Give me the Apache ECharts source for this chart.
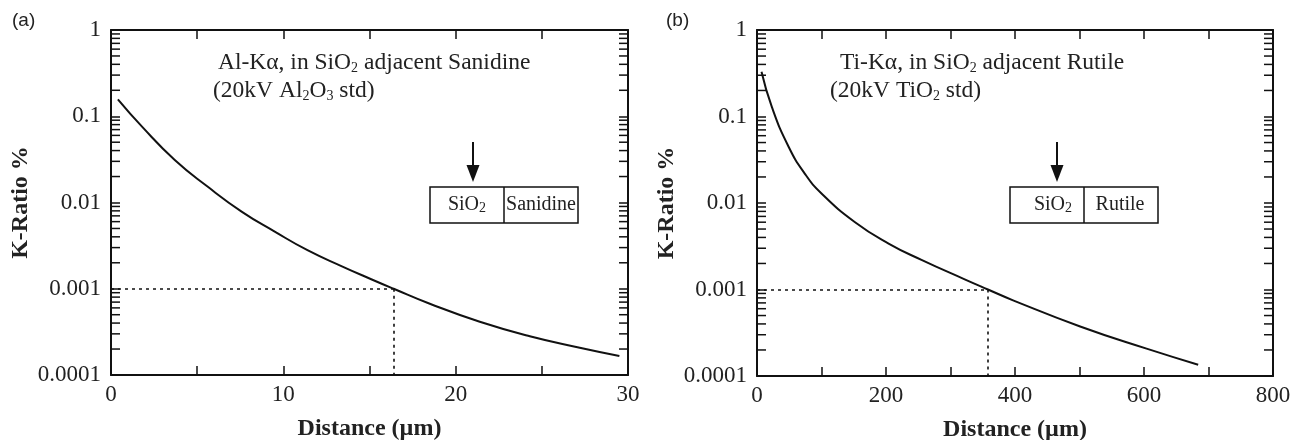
<!DOCTYPE html>
<html>
<head>
<meta charset="utf-8">
<title>K-Ratio vs Distance</title>
<script src="https://cdn.jsdelivr.net/npm/echarts@6/dist/echarts.min.js"></script>
<style>
  html, body { margin: 0; padding: 0; background: #fff; }
  #main { width: 1301px; height: 440px; }
</style>
</head>
<body>
<div id="main"></div>
<script>
// (a) Al-Ka in SiO2 next to sanidine
var distA = [0.4, 1.8, 3.7, 5.6, 7.6, 9.5, 11.4, 13.4, 15.1, 16.4, 18.5, 21.4, 24.3, 27.2, 29.5];
var kRatioA = [0.157, 0.0757, 0.0311, 0.0153, 0.0078, 0.0046, 0.0028, 0.00182, 0.00129, 0.001, 0.00067, 0.000414, 0.000281, 0.000207, 0.000166];
// (b) Ti-Ka in SiO2 next to rutile
var distB = [7, 23, 49, 74, 100, 152, 204, 255, 322, 358, 397, 501, 604, 684];
var kRatioB = [0.329, 0.129, 0.0447, 0.0219, 0.0129, 0.006, 0.0034, 0.0022, 0.00131, 0.001, 0.00075, 0.000374, 0.000207, 0.000135];

var threshold = 0.001;
var crossA = 16.4;
var crossB = 358;

var yTickLabels = ['0.0001', '0.001', '0.01', '0.1', '1'];
var xTickLabelsA = ['0', '10', '20', '30'];
var xTickLabelsB = ['0', '200', '400', '600', '800'];
var decades = [0.0001, 0.001, 0.01, 0.1];
var mantissas = [2, 3, 4, 5, 6, 7, 8, 9];

var serif = 'Liberation Serif';
var ink = '#111';

var minorTicks = [];
decades.forEach(function (d) {
  mantissas.forEach(function (m) { minorTicks.push(+(d * m).toPrecision(2)); });
});

function pairs(xs, ys) {
  return xs.map(function (x, i) { return [x, ys[i]]; });
}

function xAxis(gi, max, interval, labels, pos) {
  var bottom = pos === 'bottom';
  return {
    type: 'value', gridIndex: gi, min: 0, max: max, interval: interval, position: pos,
    axisLine: { onZero: false, lineStyle: { color: ink, width: 2 } },
    axisTick: { inside: true, length: 9, lineStyle: { color: ink, width: 1.5 } },
    axisLabel: {
      show: bottom, margin: 8, fontFamily: serif, fontSize: 23, color: '#222',
      formatter: function (v) { return labels.indexOf(String(v)) >= 0 ? String(v) : ''; }
    },
    splitLine: { show: false },
    name: bottom ? 'Distance (µm)' : '', nameLocation: 'middle', nameGap: 42,
    nameTextStyle: { fontFamily: serif, fontSize: 24, fontWeight: 'bold', color: '#222' }
  };
}

function yAxis(gi, pos) {
  var left = pos === 'left';
  return {
    type: 'log', logBase: 10, gridIndex: gi, min: 0.0001, max: 1, position: pos,
    axisLine: { onZero: false, lineStyle: { color: ink, width: 2 } },
    axisTick: { inside: true, length: 9, lineStyle: { color: ink, width: 1.5 } },
    axisLabel: {
      show: left, margin: 10, fontFamily: serif, fontSize: 23, color: '#222',
      formatter: function (v) { return yTickLabels[Math.round(Math.log10(v)) + 4]; }
    },
    splitLine: { show: false },
    name: left ? 'K-Ratio %' : '', nameLocation: 'middle', nameRotate: 90, nameGap: 78,
    nameTextStyle: { fontFamily: serif, fontSize: 24, fontWeight: 'bold', color: '#222' }
  };
}

function curve(xi, yi, data, cross) {
  return {
    type: 'line', xAxisIndex: xi, yAxisIndex: yi, data: data,
    showSymbol: false, smooth: 0.5, silent: true,
    lineStyle: { color: ink, width: 2 },
    markLine: {
      silent: true, symbol: ['none', 'none'], label: { show: false },
      lineStyle: { color: ink, width: 1.6, type: [3, 4] },
      data: [
        [{ coord: [0, threshold] }, { coord: [cross, threshold] }],
        [{ coord: [cross, threshold] }, { coord: [cross, 0.0001] }]
      ]
    }
  };
}

// minor ticks of the log axes (2..9 in each decade), left and right sides
function minorTickSeries(xi, yi, xmax) {
  return {
    type: 'custom', xAxisIndex: xi, yAxisIndex: yi, silent: true, clip: false,
    data: minorTicks.map(function (v) { return [0, v]; }),
    renderItem: function (params, api) {
      var p1 = api.coord([0, api.value(1)]);
      var p2 = api.coord([xmax, api.value(1)]);
      var st = { stroke: ink, lineWidth: 1.5 };
      return {
        type: 'group',
        children: [
          { type: 'line', shape: { x1: p1[0], y1: p1[1], x2: p1[0] + 9, y2: p1[1] }, style: st },
          { type: 'line', shape: { x1: p2[0], y1: p2[1], x2: p2[0] - 9, y2: p2[1] }, style: st }
        ]
      };
    }
  };
}

var subRich = { s: { fontFamily: serif, fontSize: 14, verticalAlign: 'bottom', fill: '#222' } };

function txt(x, y, text, size, align) {
  return {
    type: 'text', x: x, y: y, silent: true,
    style: {
      text: text, fontFamily: serif, fontSize: size, fill: '#222',
      align: align || 'left', verticalAlign: 'middle', rich: subRich
    }
  };
}

function inset(left, mid, right, arrowX, leftLabel, leftX, rightLabel, rightX) {
  var st = { fill: 'none', stroke: ink, lineWidth: 1.5 };
  return [
    { type: 'rect', shape: { x: left, y: 187, width: right - left, height: 36 }, style: st, silent: true },
    { type: 'line', shape: { x1: mid, y1: 187, x2: mid, y2: 223 }, style: st, silent: true },
    { type: 'line', shape: { x1: arrowX, y1: 142, x2: arrowX, y2: 168 }, style: { stroke: ink, lineWidth: 2 }, silent: true },
    { type: 'polygon', shape: { points: [[arrowX - 6.5, 165], [arrowX + 6.5, 165], [arrowX, 182]] }, style: { fill: ink }, silent: true },
    txt(leftX, 205, leftLabel, 20, 'center'),
    txt(rightX, 205, rightLabel, 20, 'center')
  ];
}

var graphics = [
  { type: 'text', x: 12, y: 21, silent: true, style: { text: '(a)', fontFamily: 'Liberation Sans', fontSize: 19, fill: '#222', verticalAlign: 'middle' } },
  { type: 'text', x: 666, y: 21, silent: true, style: { text: '(b)', fontFamily: 'Liberation Sans', fontSize: 19, fill: '#222', verticalAlign: 'middle' } },
  txt(218, 63, 'Al-Kα, in SiO{s|2} adjacent Sanidine', 23.5),
  txt(213, 91, '(20kV Al{s|2}O{s|3} std)', 23.5),
  txt(840, 63, 'Ti-Kα, in SiO{s|2} adjacent Rutile', 23.5),
  txt(830, 91, '(20kV TiO{s|2} std)', 23.5)
].concat(
  inset(430, 504, 578, 473, 'SiO{s|2}', 467, 'Sanidine', 541),
  inset(1010, 1084, 1158, 1057, 'SiO{s|2}', 1053, 'Rutile', 1120)
);

var chart = echarts.init(document.getElementById('main'));
chart.setOption({
  animation: false,
  backgroundColor: '#fff',
  grid: [
    { left: 111, top: 30, width: 517, height: 345, outerBoundsMode: 'none' },
    { left: 757, top: 30, width: 516, height: 346, outerBoundsMode: 'none' }
  ],
  xAxis: [
    xAxis(0, 30, 5, xTickLabelsA, 'bottom'),
    xAxis(0, 30, 5, xTickLabelsA, 'top'),
    xAxis(1, 800, 100, xTickLabelsB, 'bottom'),
    xAxis(1, 800, 100, xTickLabelsB, 'top')
  ],
  yAxis: [
    yAxis(0, 'left'),
    yAxis(0, 'right'),
    yAxis(1, 'left'),
    yAxis(1, 'right')
  ],
  series: [
    curve(0, 0, pairs(distA, kRatioA), crossA),
    curve(2, 2, pairs(distB, kRatioB), crossB),
    minorTickSeries(0, 0, 30),
    minorTickSeries(2, 2, 800)
  ],
  graphic: graphics
});
</script>
</body>
</html>
